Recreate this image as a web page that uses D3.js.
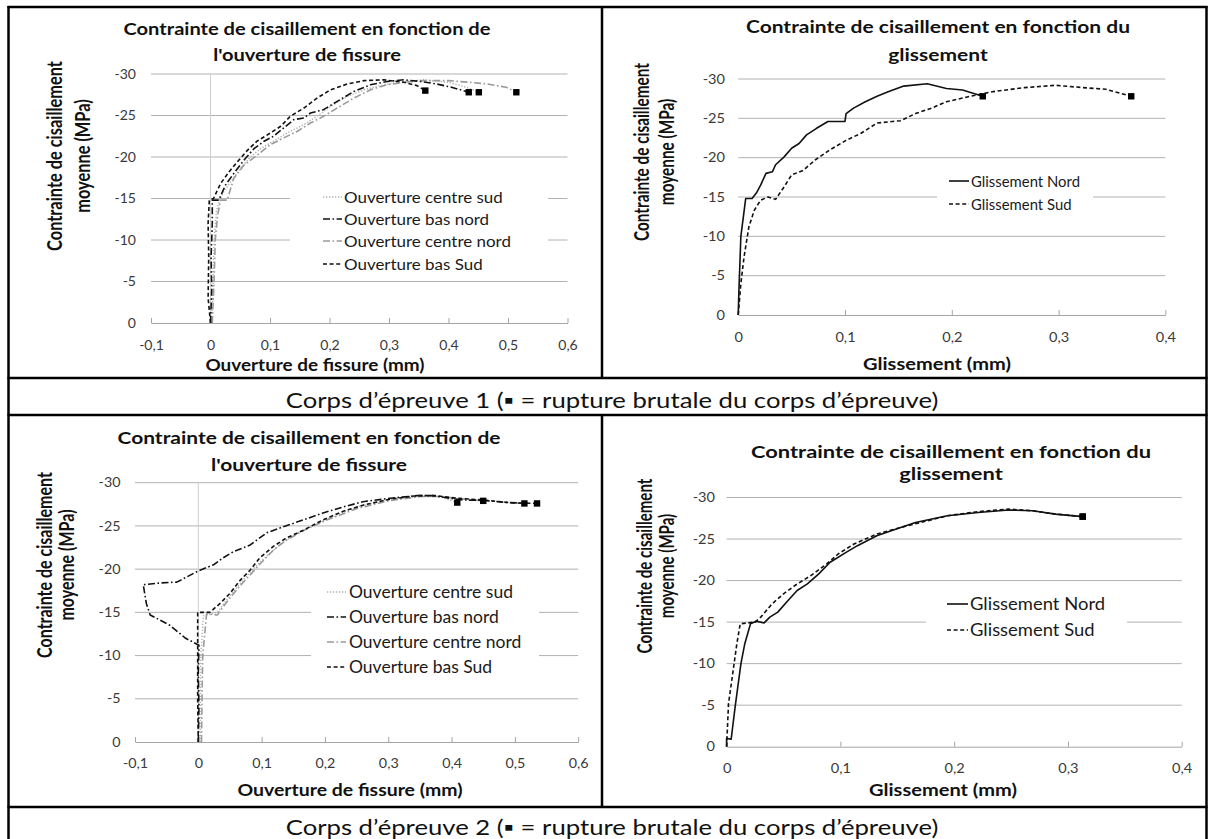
<!DOCTYPE html>
<html><head><meta charset="utf-8">
<script src="https://cdn.jsdelivr.net/npm/d3@7"></script>
<style>
body{margin:0;background:#fff}
svg{display:block}
text{font-family:Lato,"Open Sans","DejaVu Sans",sans-serif}
</style>
</head><body>
<svg id="c" width="1214" height="839"></svg>
<script>
// ---------------- DATA ----------------
const yTicks = [0,-5,-10,-15,-20,-25,-30];
const xTicksOuverture = [-0.1,0,0.1,0.2,0.3,0.4,0.5,0.6];
const xTicksGlissement = [0,0.1,0.2,0.3,0.4];
const legendOuverture = ["Ouverture centre sud","Ouverture bas nord","Ouverture centre nord","Ouverture bas Sud"];
const legendGlissement = ["Glissement Nord","Glissement Sud"];
const titleOuverture = ["Contrainte de cisaillement en fonction de","l'ouverture de fissure"];
const titleGlissement = ["Contrainte de cisaillement en fonction du","glissement"];
const yAxisTitle = ["Contrainte de cisaillement","moyenne (MPa)"];
const xTitleOuverture = "Ouverture de fissure (mm)";
const xTitleGlissement = "Glissement (mm)";
const captions = ["Corps d\u2019épreuve 1 (\u25AA = rupture brutale du corps d\u2019épreuve)",
                  "Corps d\u2019épreuve 2 (\u25AA = rupture brutale du corps d\u2019épreuve)"];

// Corps d'épreuve 1 - ouverture [mm, MPa]
const c1CentreSud = [[0.002,0],[0.004,-4],[0.005,-8],[0.007,-11],[0.01,-13.5],[0.015,-14.8],[0.022,-15.8],[0.034,-17],[0.05,-18.6],[0.067,-20],[0.084,-21],[0.106,-21.9],[0.129,-22.9],[0.157,-23.9],[0.179,-24.9],[0.202,-26.1],[0.23,-27.3],[0.258,-28.1],[0.291,-28.7],[0.325,-29.1],[0.358,-29.3],[0.4,-29.0],[0.43,-28.4],[0.451,-27.8]];
const c1BasNord = [[0,0],[0.002,-4],[0.001,-8],[0.003,-12],[0.003,-14.8],[0.014,-14.8],[0.025,-16.6],[0.039,-18],[0.056,-19.6],[0.073,-21],[0.09,-21.9],[0.106,-22.5],[0.123,-23.5],[0.14,-24.5],[0.157,-24.7],[0.168,-25.3],[0.19,-25.7],[0.213,-26.7],[0.241,-27.9],[0.269,-28.7],[0.297,-29.1],[0.325,-29.3],[0.353,-29.1],[0.38,-28.8],[0.405,-28.4],[0.425,-28],[0.434,-27.8]];
const c1CentreNord = [[0.003,0],[0.006,-5],[0.008,-10],[0.012,-13],[0.017,-14.8],[0.028,-14.8],[0.039,-17.4],[0.056,-19],[0.078,-20.2],[0.101,-21.5],[0.123,-22.3],[0.146,-23.1],[0.168,-24.1],[0.19,-24.9],[0.213,-25.9],[0.241,-27.1],[0.269,-28.1],[0.297,-28.7],[0.325,-29],[0.358,-29.2],[0.4,-29.2],[0.435,-29],[0.465,-28.8],[0.497,-28.4],[0.514,-27.8]];
const c1BasSud = [[0,0],[-0.004,-3],[-0.003,-8],[-0.004,-12],[-0.002,-14.8],[0.005,-15],[0.017,-16.8],[0.031,-18.2],[0.045,-19.4],[0.062,-20.8],[0.078,-21.9],[0.101,-22.9],[0.118,-23.7],[0.134,-24.9],[0.157,-25.9],[0.179,-27.1],[0.202,-28.1],[0.23,-28.8],[0.258,-29.2],[0.291,-29.3],[0.325,-29],[0.347,-28.6],[0.361,-28]];

// Corps d'épreuve 1 - glissement
const g1Nord = [[0,0],[0.0007,-3.2],[0.0025,-10],[0.007,-14.8],[0.013,-14.8],[0.017,-15.5],[0.021,-16.5],[0.026,-18],[0.032,-18.2],[0.035,-19.1],[0.043,-20.1],[0.05,-21.2],[0.057,-21.8],[0.064,-22.9],[0.073,-23.7],[0.084,-24.6],[0.1,-24.6],[0.101,-25.6],[0.108,-26.3],[0.119,-27.1],[0.13,-27.8],[0.141,-28.4],[0.155,-29.1],[0.177,-29.4],[0.195,-28.8],[0.21,-28.6],[0.229,-27.8]];
const g1Sud = [[0,0],[0.0025,-4],[0.0055,-7.4],[0.01,-11.2],[0.015,-13.3],[0.021,-14.6],[0.028,-15],[0.035,-14.7],[0.043,-16.3],[0.05,-17.8],[0.061,-18.4],[0.072,-19.7],[0.086,-21],[0.101,-22.2],[0.115,-23.1],[0.13,-24.4],[0.152,-24.7],[0.166,-25.6],[0.181,-26.3],[0.195,-27.1],[0.217,-27.8],[0.239,-28.4],[0.268,-28.9],[0.297,-29.2],[0.323,-28.9],[0.344,-28.7],[0.368,-27.8]];

// Corps d'épreuve 2 - ouverture
const c2CentreSud = [[0.003,0],[0.003,-5],[0.004,-10],[0.008,-14.6],[0.03,-15],[0.04,-16],[0.06,-17.8],[0.08,-19.5],[0.1,-21],[0.13,-22.9],[0.16,-24.3],[0.2,-25.7],[0.25,-27.2],[0.3,-28],[0.35,-28.4],[0.38,-28.4],[0.409,-27.7]];
const c2BasNord = [[0,0],[0.001,-4],[0,-8],[0.001,-11.2],[-0.02,-12],[-0.045,-13.5],[-0.076,-14.7],[-0.082,-16],[-0.087,-18.2],[-0.06,-18.4],[-0.034,-18.5],[-0.018,-19.1],[0,-19.8],[0.024,-20.5],[0.039,-21.3],[0.055,-22],[0.082,-22.8],[0.108,-24.2],[0.134,-24.9],[0.166,-25.7],[0.197,-26.5],[0.229,-27.2],[0.26,-27.8],[0.303,-28.2],[0.345,-28.5],[0.371,-28.5],[0.397,-28.2],[0.418,-28],[0.45,-27.95],[0.49,-27.7],[0.535,-27.6]];
const c2CentreNord = [[0.005,0],[0.006,-6],[0.007,-10],[0.013,-14.8],[0.03,-14.7],[0.045,-16.2],[0.065,-18],[0.085,-19.6],[0.1,-20.8],[0.12,-22.3],[0.14,-23.4],[0.17,-24.6],[0.2,-25.6],[0.25,-27],[0.3,-27.9],[0.35,-28.4],[0.38,-28.4],[0.42,-28.1],[0.45,-27.9]];
const c2BasSud = [[0,0],[-0.001,-5],[-0.001,-10],[-0.001,-15],[0.018,-15],[0.034,-16],[0.05,-17.2],[0.066,-18.7],[0.082,-19.9],[0.097,-21.3],[0.118,-22.6],[0.139,-23.6],[0.166,-24.5],[0.197,-25.7],[0.229,-26.7],[0.26,-27.4],[0.303,-28.1],[0.345,-28.5],[0.376,-28.5],[0.408,-28.2],[0.45,-28],[0.49,-27.7],[0.515,-27.6]];

// Corps d'épreuve 2 - glissement
const g2Nord = [[0,0],[0,-1],[0.004,-0.9],[0.0075,-4.8],[0.0126,-10],[0.016,-12.4],[0.021,-14.8],[0.026,-15.1],[0.033,-14.9],[0.038,-15.6],[0.045,-16.2],[0.054,-17.6],[0.062,-18.8],[0.071,-19.6],[0.081,-20.8],[0.091,-22.2],[0.105,-23.4],[0.115,-24.2],[0.132,-25.4],[0.153,-26.4],[0.166,-27],[0.194,-27.8],[0.221,-28.2],[0.248,-28.5],[0.269,-28.4],[0.289,-28],[0.313,-27.7]];
const g2Sud = [[0,0],[0.0017,-5.2],[0.0058,-9.2],[0.009,-12.4],[0.012,-14.8],[0.025,-15],[0.03,-15.6],[0.04,-17.2],[0.05,-18.4],[0.06,-19.4],[0.074,-20.6],[0.088,-22],[0.098,-23.2],[0.112,-24.4],[0.132,-25.6],[0.159,-26.6],[0.194,-27.8],[0.221,-28.3],[0.248,-28.6],[0.269,-28.4],[0.289,-28],[0.313,-27.7]];

// ---------------- STYLES ----------------
const ST = {
  centreSud:  {stroke:"#b0b0b0", w:1.4, dash:"1.3,1.7"},
  basNord:    {stroke:"#111",    w:1.6, dash:"7,2.5,1.6,2.5"},
  centreNord: {stroke:"#9a9a9a", w:1.6, dash:"7,2.5,1.6,2.5"},
  basSud:     {stroke:"#111",    w:1.6, dash:"4,2.6"},
  glNord:     {stroke:"#111",    w:1.6, dash:null},
  glSud:      {stroke:"#111",    w:1.6, dash:"4,2.6"}
};

const svg = d3.select("#c");
svg.append("rect").attr("width",1214).attr("height",839).attr("fill","#fff");

const fmtX = d => d === 0 ? "0" : String(d).replace(".", ",");
const fmtY = d => String(d);

// measure natural text length
function measure(str, size, bold) {
  const t = svg.append("text").attr("font-size", size).attr("font-weight", bold ? "bold" : null).text(str);
  const w = t.node().getComputedTextLength();
  t.remove();
  return w;
}
// text with horizontal stretch (the source picture is stretched horizontally)
function stext(parent, x, y, str, o) {
  const rot = o.rotate ? " rotate(-90)" : "";
  return parent.append("text")
    .attr("transform", `translate(${x},${y}) scale(${o.sx||1},1)${rot}`)
    .attr("dy", "0.35em")
    .attr("text-anchor", o.anchor || "start")
    .attr("font-size", o.size)
    .attr("font-weight", o.bold ? "bold" : null)
    .attr("fill", o.fill || "#111")
    .text(str);
}

function drawChart(cfg) {
  const g = svg.append("g");
  const F = cfg.font;
  const x = d3.scaleLinear().domain(cfg.xDomain).range([cfg.x0, cfg.x1]);
  const y = d3.scaleLinear().domain([0,-30]).range([cfg.yBot, cfg.yTop]);

  // gridlines
  g.append("g").selectAll("line").data(yTicks.filter(v => v !== 0)).join("line")
    .attr("x1", cfg.x0).attr("x2", cfg.x1)
    .attr("y1", d => y(d)).attr("y2", d => y(d))
    .attr("stroke", "#b2b2b2").attr("stroke-width", 1);

  if (cfg.zeroAxis) {
    g.append("line").attr("x1", x(0)).attr("x2", x(0)).attr("y1", cfg.yTop).attr("y2", cfg.yBot)
      .attr("stroke", "#cfcfcf").attr("stroke-width", 1);
  }

  // x axis
  const xa = g.append("g").attr("transform", `translate(0,${cfg.yBot})`)
    .call(d3.axisBottom(x).tickValues(cfg.xTicks).tickFormat(fmtX).tickSizeInner(-5).tickSizeOuter(0));
  xa.select(".domain").attr("stroke", "#a5a5a5");
  xa.selectAll(".tick line").attr("stroke", "#a5a5a5");
  xa.selectAll(".tick text").attr("y", null).attr("dy", "0.35em")
    .attr("transform", `translate(0,${cfg.xTickY - cfg.yBot}) scale(${F.tickSx},1)`)
    .attr("font-size", F.tick).attr("fill", "#3a3a3a").attr("font-family", "Lato");

  // y axis labels
  const ya = g.append("g").attr("transform", `translate(${cfg.yLabelRight},0)`)
    .call(d3.axisLeft(y).tickValues(yTicks).tickFormat(fmtY).tickSize(0).tickPadding(0));
  ya.select(".domain").remove();
  ya.selectAll(".tick text").attr("x", null).attr("transform", `scale(${F.tickSx},1)`)
    .attr("font-size", F.tick).attr("fill", "#3a3a3a").attr("font-family", "Lato");

  // legend
  const L = cfg.legend;
  g.append("rect").attr("x", L.rect[0]).attr("y", L.rect[1])
    .attr("width", L.rect[2]-L.rect[0]).attr("height", L.rect[3]-L.rect[1]).attr("fill", "#fff");
  const legSx = F.legW / measure(cfg.series[0].label, F.leg, false);
  cfg.series.forEach((s, i) => {
    const ly = L.ys[i];
    g.append("line").attr("x1", L.sx[0]).attr("x2", L.sx[1]).attr("y1", ly).attr("y2", ly)
      .attr("stroke", s.st.stroke).attr("stroke-width", s.st.w).attr("stroke-dasharray", s.st.dash);
    stext(g, L.tx, ly, s.label, {size: F.leg, sx: legSx, fill: "#1a1a1a"});
  });

  // series
  const line = d3.line().x(d => x(d[0])).y(d => y(d[1]));
  cfg.series.slice().sort((a,b) => (a.z||0)-(b.z||0)).forEach(s => {
    g.append("path").datum(s.data).attr("d", line).attr("fill", "none")
      .attr("stroke", s.st.stroke).attr("stroke-width", s.st.w)
      .attr("stroke-dasharray", s.st.dash).attr("stroke-linejoin", "round");
  });
  // rupture markers (last point of each series)
  g.append("g").selectAll("rect").data(cfg.series.map(s => s.data[s.data.length-1])).join("rect")
    .attr("x", d => x(d[0]) - 3.2).attr("y", d => y(d[1]) - 3.2)
    .attr("width", 6.4).attr("height", 6.4).attr("fill", "#000");

  // titles
  const tSx = F.titleW / measure(cfg.title[0], F.title, true);
  cfg.title.forEach((t, i) => stext(g, cfg.titleX, cfg.titleYs[i], t,
    {size: F.title, sx: tSx, bold: true, anchor: "middle"}));
  const xtSx = F.xtW / measure(cfg.xTitle, F.xt, true);
  stext(g, cfg.xTitleX, cfg.xTitleY, cfg.xTitle, {size: F.xt, sx: xtSx, bold: true, anchor: "middle"});
  const ytSize = 16 * F.ytLen / measure(yAxisTitle[0], 16, true);
  yAxisTitle.forEach((t, i) => stext(g, cfg.yTitleX[i], cfg.yTitleCY, t,
    {size: ytSize, sx: F.ytSx, bold: true, anchor: "middle", rotate: true}));
}

const ouvSeries = (cs, bn, cn, bs) => [
  {data: cs, st: ST.centreSud,  label: legendOuverture[0], z:0},
  {data: bn, st: ST.basNord,    label: legendOuverture[1], z:2},
  {data: cn, st: ST.centreNord, label: legendOuverture[2], z:1},
  {data: bs, st: ST.basSud,     label: legendOuverture[3], z:3}
];
const glSeries = (n, s) => [
  {data: n, st: ST.glNord, label: legendGlissement[0], z:0},
  {data: s, st: ST.glSud,  label: legendGlissement[1], z:1}
];

drawChart({x0:151, x1:567.5, yTop:74, yBot:323, xDomain:[-0.1,0.6], xTicks:xTicksOuverture, zeroAxis:true,
  font:{title:17.7, titleW:367, leg:16, legW:159, xt:17.2, xtW:219, ytLen:190, ytSx:1.32, tick:13, tickSx:1.08},
  title:titleOuverture, titleX:307, titleYs:[29,55], xTitle:xTitleOuverture, xTitleX:315, xTitleY:365, xTickY:345,
  yLabelRight:136, yTitleX:[54.5,82], yTitleCY:156,
  legend:{rect:[290,182,548,276], sx:[323,342], tx:344, ys:[197,219,241,264]},
  series: ouvSeries(c1CentreSud, c1BasNord, c1CentreNord, c1BasSud)});

drawChart({x0:738.2, x1:1165.4, yTop:79, yBot:315, xDomain:[0,0.4], xTicks:xTicksGlissement, zeroAxis:false,
  font:{title:17.7, titleW:384, leg:16, legW:109, xt:17.2, xtW:148, ytLen:178, ytSx:1.32, tick:13, tickSx:1.12},
  title:titleGlissement, titleX:938, titleYs:[27,55], xTitle:xTitleGlissement, xTitleX:937, xTitleY:364, xTickY:337,
  yLabelRight:725, yTitleX:[642,667], yTitleCY:152,
  legend:{rect:[937,168,1093,217], sx:[949,969], tx:971, ys:[181,204]},
  series: glSeries(g1Nord, g1Sud)});

drawChart({x0:135, x1:578.2, yTop:482.7, yBot:742, xDomain:[-0.1,0.6], xTicks:xTicksOuverture, zeroAxis:true,
  font:{title:17.7, titleW:383, leg:16.5, legW:164, xt:17.2, xtW:225, ytLen:186, ytSx:1.32, tick:13, tickSx:1.1},
  title:titleOuverture, titleX:309, titleYs:[438,465], xTitle:xTitleOuverture, xTitleX:350, xTitleY:790, xTickY:763,
  yLabelRight:120.5, yTitleX:[45,67], yTitleCY:565,
  legend:{rect:[311,578,539,680], sx:[327,346], tx:349, ys:[592,617,642,667]},
  series: ouvSeries(c2CentreSud, c2BasNord, c2CentreNord, c2BasSud)});

drawChart({x0:726.6, x1:1181.7, yTop:497.5, yBot:746.7, xDomain:[0,0.4], xTicks:xTicksGlissement, zeroAxis:false,
  font:{title:17.7, titleW:400, leg:16.8, legW:135, xt:17.2, xtW:148, ytLen:175, ytSx:1.35, tick:13, tickSx:1.12},
  title:titleGlissement, titleX:951, titleYs:[452,474], xTitle:xTitleGlissement, xTitleX:943, xTitleY:790, xTickY:768,
  yLabelRight:715, yTitleX:[645,667], yTitleCY:566,
  legend:{rect:[926,592,1127,644], sx:[947,968], tx:970, ys:[604,630]},
  series: glSeries(g2Nord, g2Sud)});

// captions
const capSx = 653 / measure(captions[0], 21.5, false);
[[400, captions[0]], [827, captions[1]]].forEach(([cy, t]) => {
  stext(svg, 612, cy, t, {size: 21.5, sx: capSx, anchor: "middle", fill: "#111"});
});

// table borders
const tb = svg.append("g").attr("stroke", "#000").attr("stroke-width", 2.5);
const hLines = [7, 378, 415, 807];
tb.selectAll("line.h").data(hLines).join("line").attr("class","h")
  .attr("x1", 7.5).attr("x2", 1207.5).attr("y1", d => d).attr("y2", d => d);
tb.append("line").attr("x1", 8.5).attr("x2", 8.5).attr("y1", 6).attr("y2", 839);
tb.append("line").attr("x1", 1206.5).attr("x2", 1206.5).attr("y1", 6).attr("y2", 839);
tb.append("line").attr("x1", 602).attr("x2", 602).attr("y1", 7).attr("y2", 378);
tb.append("line").attr("x1", 602).attr("x2", 602).attr("y1", 415).attr("y2", 807);
</script>
</body></html>
